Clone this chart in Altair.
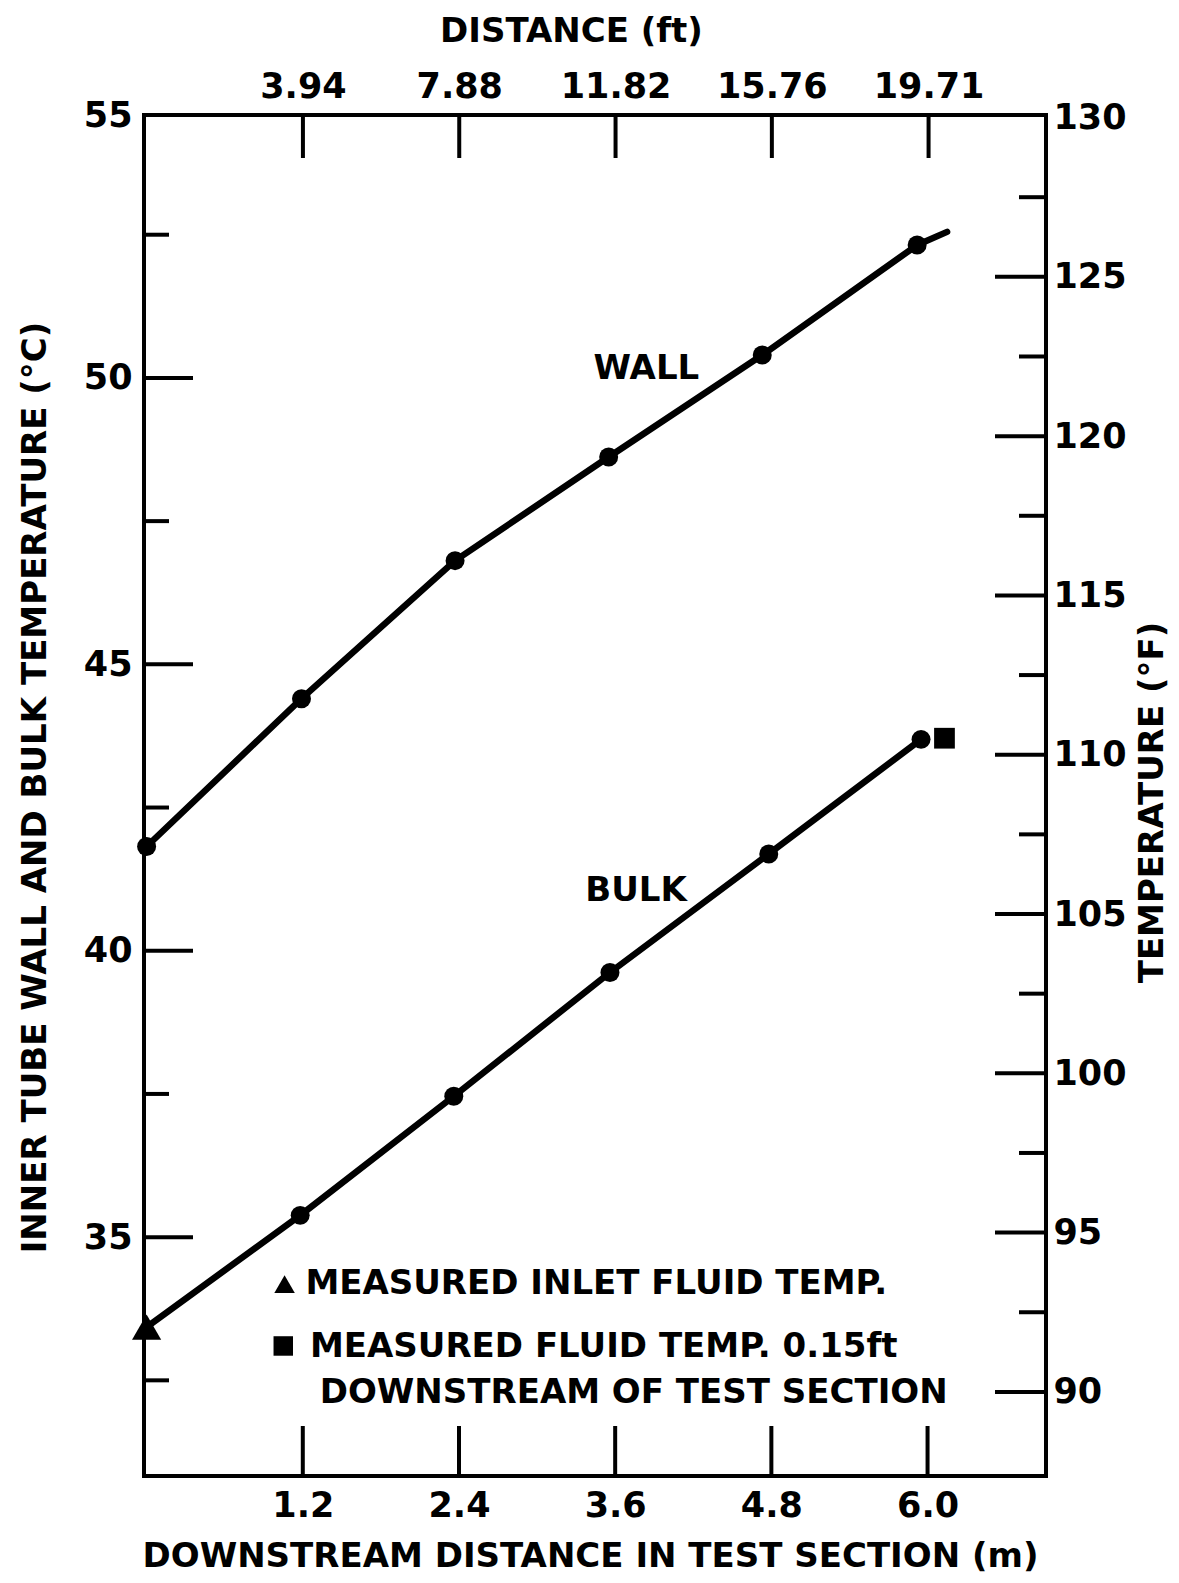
import altair as alt
import pandas as pd

# ---------------- data ----------------
wall_x = [0.0, 1.19, 2.37, 3.55, 4.73, 5.92]
wall_y = [41.82, 44.40, 46.81, 48.62, 50.40, 52.32]
wall_line_end_x = [6.15]
wall_line_end_y = [52.55]

bulk_x = [1.18, 2.36, 3.56, 4.78, 5.95]
bulk_y = [35.38, 37.46, 39.62, 41.69, 43.69]

inlet_x = [0.0]
inlet_y = [33.43]
outlet_x = [6.13]
outlet_y = [43.71]

x_m_ticks = [1.2, 2.4, 3.6, 4.8, 6.0]
x_ft_ticks = [3.94, 7.88, 11.82, 15.76, 19.71]
y_c_major = [35, 40, 45, 50]
y_c_minor = [32.5, 37.5, 42.5, 47.5, 52.5]
y_c_top_label = "55"
y_f_labels = [90, 95, 100, 105, 110, 115, 120, 125, 130]
y_f_major = [90, 95, 100, 105, 110, 115, 120, 125]
y_f_minor = [92.5, 97.5, 102.5, 107.5, 112.5, 117.5, 122.5, 127.5]

x_dom = [-0.02, 6.91]
ft_dom = [-0.066, 22.67]
c_dom = [30.83, 54.59]
f_dom = [87.36, 130.08]

curve_labels = ["WALL", "BULK"]
curve_label_x = [3.84, 3.76]
curve_label_y = [50.16, 41.05]

legend_text = ["MEASURED INLET FLUID TEMP.", "MEASURED FLUID TEMP. 0.15ft", "DOWNSTREAM OF TEST SECTION"]
legend_text_x = [1.22, 1.255, 1.33]
legend_text_y = [34.18, 33.08, 32.28]
legend_tri_x, legend_tri_y = [1.06], [34.18]
legend_sq_x, legend_sq_y = [1.05], [33.10]

# ---------------- layout / style ----------------
W, H = 902, 1361
FONT = "DejaVu Sans"
base = dict(domain=False, ticks=False, tickSize=0, grid=False,
            labelFont=FONT, labelFontSize=35, labelFontWeight="bold", labelColor="black",
            titleFont=FONT, titleFontSize=34, titleFontWeight="bold", titleColor="black",
            labelFlush=False, labelOverlap=False, titleAlign="center", titleBaseline="middle",
            labelAngle=0)

xs = alt.Scale(domain=x_dom, nice=False, zero=False)
ys = alt.Scale(domain=c_dom, nice=False, zero=False)
fts = alt.Scale(domain=ft_dom, nice=False, zero=False)
fs = alt.Scale(domain=f_dom, nice=False, zero=False)

x_axis = alt.Axis(orient="bottom", values=x_m_ticks, format=".1f", labelPadding=29,
                  labelBaseline="middle", labelAlign="center",
                  title="DOWNSTREAM DISTANCE IN TEST SECTION (m)",
                  titleX=446, titleY=80, titleAngle=0, **base)
y_axis = alt.Axis(orient="left", values=y_c_major + [c_dom[1]],
                  labelExpr=f"datum.value == {c_dom[1]} ? '{y_c_top_label}' : datum.label",
                  labelPadding=12, labelAlign="right", labelBaseline="middle",
                  title="INNER TUBE WALL AND BULK TEMPERATURE (°C)",
                  titleX=-109, titleY=672, titleAngle=270, **base)
top_axis = alt.Axis(orient="top", values=x_ft_ticks, format=".2f", labelPadding=29,
                    labelBaseline="middle", labelAlign="center",
                    title="DISTANCE (ft)", titleX=427, titleY=-84, titleAngle=0, **base)
right_axis = alt.Axis(orient="right", values=y_f_labels, format="d", labelPadding=7,
                      labelAlign="left", labelBaseline="middle",
                      title="TEMPERATURE (°F)", titleX=106, titleY=687, titleAngle=270, **base)

X = lambda: alt.X("x:Q", scale=xs, axis=x_axis)
Y = lambda: alt.Y("y:Q", scale=ys, axis=y_axis)

# ---------------- data frames ----------------
lines_df = pd.DataFrame({
    "x": wall_x + wall_line_end_x + inlet_x + bulk_x,
    "y": wall_y + wall_line_end_y + inlet_y + bulk_y,
    "series": ["wall"] * (len(wall_x) + 1) + ["bulk"] * (len(inlet_x) + len(bulk_x)),
})
circles_df = pd.DataFrame({"x": wall_x + bulk_x, "y": wall_y + bulk_y})
tri_df = pd.DataFrame({"x": inlet_x, "y": inlet_y})
sq_df = pd.DataFrame({"x": outlet_x, "y": outlet_y})
ltri_df = pd.DataFrame({"x": legend_tri_x, "y": legend_tri_y})
lsq_df = pd.DataFrame({"x": legend_sq_x, "y": legend_sq_y})
clabel_df = pd.DataFrame({"x": curve_label_x, "y": curve_label_y, "t": curve_labels})
ltext_df = pd.DataFrame({"x": legend_text_x, "y": legend_text_y, "t": legend_text})

lines = alt.Chart(lines_df).mark_line(color="black", strokeWidth=6.5, strokeCap="round",
                                      strokeJoin="round").encode(
    x=X(), y=Y(), detail="series:N", order="x:Q")
circles = alt.Chart(circles_df).mark_point(shape="circle", filled=True, size=360,
                                           color="black", opacity=1).encode(x=X(), y=Y())
tri = alt.Chart(tri_df).mark_point(shape="triangle-up", filled=True, size=850,
                                   color="black", opacity=1).encode(x=X(), y=Y())
sq = alt.Chart(sq_df).mark_point(shape="square", filled=True, size=430,
                                 color="black", opacity=1).encode(x=X(), y=Y())
ltri = alt.Chart(ltri_df).mark_point(shape="triangle-up", filled=True, size=420,
                                     color="black", opacity=1).encode(x=X(), y=Y())
lsq = alt.Chart(lsq_df).mark_point(shape="square", filled=True, size=380,
                                   color="black", opacity=1).encode(x=X(), y=Y())
clabels = alt.Chart(clabel_df).mark_text(font=FONT, fontWeight="bold", fontSize=34,
                                         align="center", baseline="middle", color="black").encode(
    x=X(), y=Y(), text="t:N")
ltexts = alt.Chart(ltext_df).mark_text(font=FONT, fontWeight="bold", fontSize=34,
                                       align="left", baseline="middle", color="black").encode(
    x=X(), y=Y(), text="t:N")

left_major = alt.Chart(pd.DataFrame({"y": y_c_major})).mark_rule(color="black", strokeWidth=4).encode(
    y=Y(), x=alt.value(0), x2=alt.value(49))
left_minor = alt.Chart(pd.DataFrame({"y": y_c_minor})).mark_rule(color="black", strokeWidth=4).encode(
    y=Y(), x=alt.value(0), x2=alt.value(25))
bottom_ticks = alt.Chart(pd.DataFrame({"x": x_m_ticks})).mark_rule(color="black", strokeWidth=4).encode(
    x=X(), y=alt.value(H - 50), y2=alt.value(H))

main = alt.layer(lines, circles, tri, sq, ltri, lsq, clabels, ltexts,
                 left_major, left_minor, bottom_ticks)

top_ticks = alt.Chart(pd.DataFrame({"ft": x_ft_ticks})).mark_rule(color="black", strokeWidth=4).encode(
    x=alt.X("ft:Q", scale=fts, axis=top_axis), y=alt.value(0), y2=alt.value(43))
right_major = alt.Chart(pd.DataFrame({"f": y_f_major})).mark_rule(color="black", strokeWidth=4).encode(
    y=alt.Y("f:Q", scale=fs, axis=right_axis), x=alt.value(W - 51), x2=alt.value(W))
right_minor = alt.Chart(pd.DataFrame({"f": y_f_minor})).mark_rule(color="black", strokeWidth=4).encode(
    y=alt.Y("f:Q", scale=fs, axis=right_axis), x=alt.value(W - 27), x2=alt.value(W))

secondary = alt.layer(top_ticks, right_major, right_minor)

chart = alt.layer(main, secondary).resolve_scale(
    x="independent", y="independent"
).properties(
    width=W, height=H,
    autosize=alt.AutoSizeParams(type="none"),
    padding={"left": 136, "top": 107, "right": 125, "bottom": 99},
    background="white",
).configure_view(stroke="black", strokeWidth=4, fill="white")

chart.save("out.html", embed_options={"renderer": "svg", "actions": False})
